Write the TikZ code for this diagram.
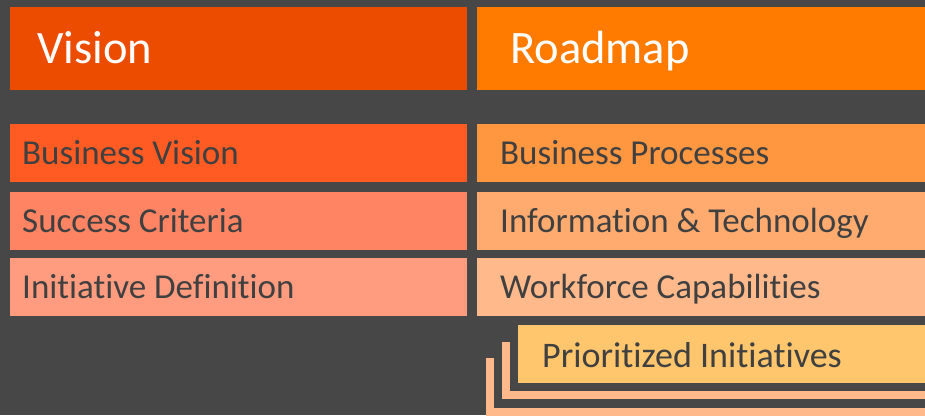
\documentclass[tikz,border=0pt]{standalone}
\usepackage{fontspec}
\setmainfont[Ligatures={NoCommon}]{Carlito}
\definecolor{bg}{HTML}{474747}
\definecolor{txt}{HTML}{404040}
\definecolor{cVis}{HTML}{EC4C00}
\definecolor{cRoad}{HTML}{FF7B00}
\definecolor{cBV}{HTML}{FF5B23}
\definecolor{cSC}{HTML}{FF8463}
\definecolor{cID}{HTML}{FF9C80}
\definecolor{cBP}{HTML}{FF9640}
\definecolor{cIT}{HTML}{FFAB70}
\definecolor{cWC}{HTML}{FFB98A}
\definecolor{cPI}{HTML}{FFC66E}
\begin{document}
\begin{tikzpicture}[x=1pt,y=-1pt,
  box/.style={draw=none,inner sep=0pt,anchor=north west,minimum width=#1},
  box/.default=457pt,
  head/.style={anchor=west,inner sep=0pt,text=white,text height=29.5pt,text depth=0pt,font=\fontsize{46.5}{50}\selectfont},
  body/.style={anchor=west,inner sep=0pt,text=txt,text height=22.5pt,text depth=0pt,font=\fontsize{35}{40}\selectfont}]
\useasboundingbox (0,0) rectangle (925,415);
\fill[bg] (0,0) rectangle (925,415);
% headers
\node[box,fill=cVis,minimum height=83pt] (vis) at (10,7) {};
\node[box=460pt,fill=cRoad,minimum height=83pt] (road) at (477,7) {};
\node[head] (tvis) at ([xshift=27pt]vis.west) {Vision};
\node[head] (troad) at ([xshift=33pt]road.west) {Roadmap};
% left column
\node[box,fill=cBV,minimum height=58pt] (bv) at (10,124) {};
\node[box,fill=cSC,minimum height=58pt] (sc) at (10,192) {};
\node[box,fill=cID,minimum height=58pt] (id) at (10,258) {};
% right column
\node[box=460pt,fill=cBP,minimum height=58pt] (bp) at (477,124) {};
\node[box=460pt,fill=cIT,minimum height=58pt] (it) at (477,192) {};
\node[box=460pt,fill=cWC,minimum height=58pt] (wc) at (477,258) {};
% stacked initiatives
\node[box=460pt,fill=cWC,minimum height=70pt] (s1) at (486,358) {};
\node[box=460pt,fill=bg,minimum height=58pt] (g1) at (494,350) {};
\node[box=460pt,fill=cWC,minimum height=57pt] (s2) at (502,342) {};
\node[box=460pt,fill=bg,minimum height=57pt] (g2) at (510,334) {};
\node[box=460pt,fill=cPI,minimum height=58pt] (pi) at (518,325) {};
% texts
\node[body] (tbv) at ([xshift=12pt]bv.west) {Business Vision};
\node[body] (tsc) at ([xshift=12pt]sc.west) {Success Criteria};
\node[body] (tid) at ([xshift=12pt]id.west) {Initiative Definition};
\node[body] (tbp) at ([xshift=23pt]bp.west) {Business Processes};
\node[body] (tit) at ([xshift=23pt]it.west) {Information \& Technology};
\node[body] (twc) at ([xshift=23pt]wc.west) {Workforce Capabilities};
\node[body,text height=23.2pt,font=\fontsize{36}{40}\selectfont] (tpi) at ([xshift=24pt,yshift=-1.7pt]pi.west) {Prioritized Initiatives};
\end{tikzpicture}
\end{document}
